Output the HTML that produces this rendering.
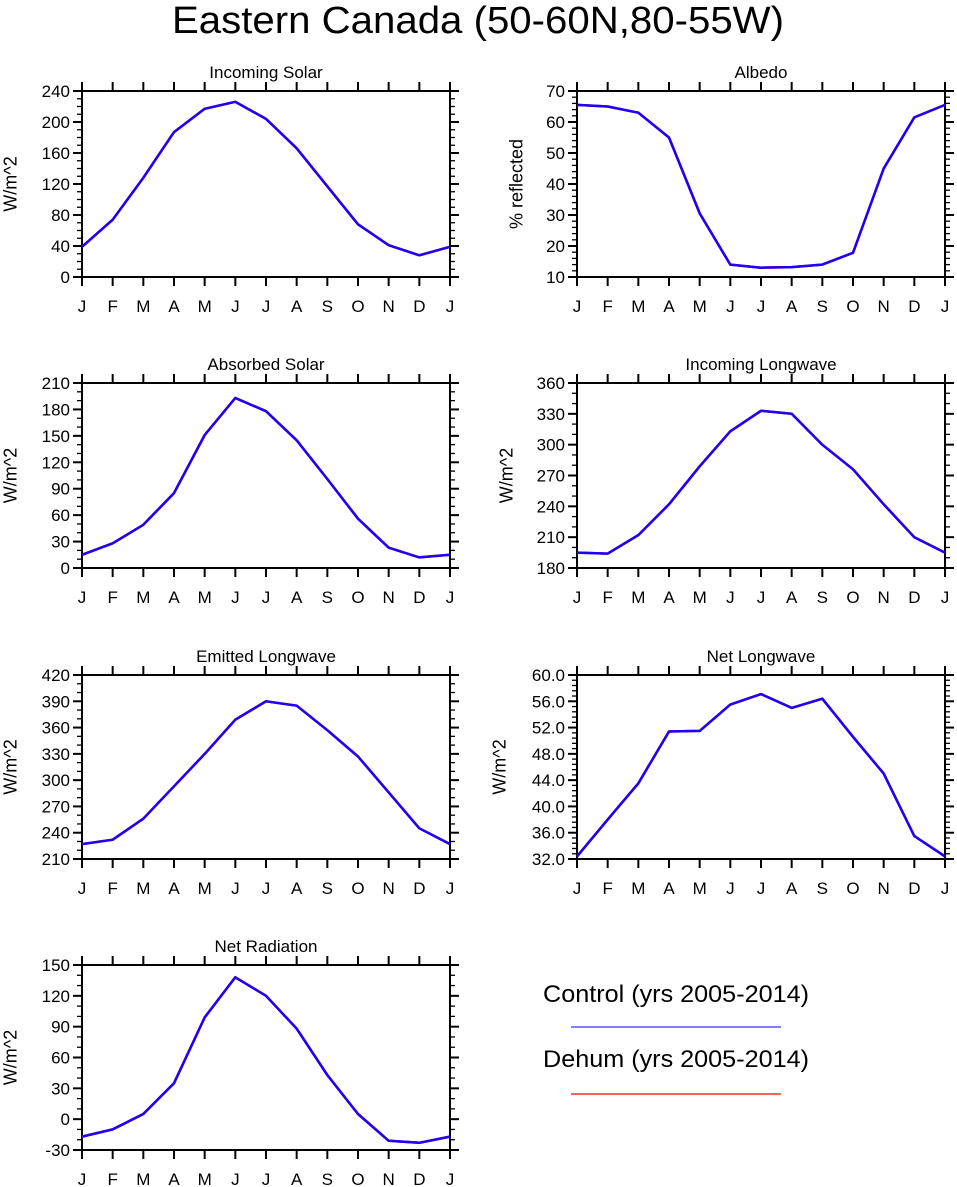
<!DOCTYPE html>
<html><head><meta charset="utf-8"><style>
body{margin:0;background:#fff;}
svg{display:block;font-family:"Liberation Sans",sans-serif;}
</style></head><body>
<svg id="fig" width="957" height="1187" viewBox="0 0 957 1187">
<text x="478" y="33" font-size="38" text-anchor="middle" textLength="612" lengthAdjust="spacingAndGlyphs">Eastern Canada (50-60N,80-55W)</text>
<g>
<text x="676" y="1002" font-size="24" text-anchor="middle" textLength="266" lengthAdjust="spacingAndGlyphs">Control (yrs 2005-2014)</text>
<line x1="571" y1="1027" x2="781" y2="1027" stroke="#3333ff" stroke-width="1.2"/>
<text x="676" y="1067" font-size="24" text-anchor="middle" textLength="266" lengthAdjust="spacingAndGlyphs">Dehum (yrs 2005-2014)</text>
<line x1="571" y1="1094" x2="781" y2="1094" stroke="#ff0000" stroke-width="1.2"/>
</g>
</svg>
<script>
const months = ["J","F","M","A","M","J","J","A","S","O","N","D","J"];
const incomingSolar = [39,74,128,187,217,226,204,166,117,68,41,28,39];
const albedo = [65.5,65,63,55,30.5,14,13,13.2,14,17.8,45,61.5,65.5];
const absorbedSolar = [15,28,49,85,151,193,178,145,101,56,23,12,15];
const incomingLW = [195,194,212,242,279,313,333,330,300,276,242,210,195];
const emittedLW = [227,232,256,293,330,369,390,385,357,327,286,245,227];
const netLW = [32.4,38,43.5,51.4,51.5,55.5,57.1,55,56.4,50.6,45,35.5,32.4];
const netRadiation = [-17,-10,5,35,99,138,120,88,43,5,-21,-23,-17];
const ticksIS = [0,40,80,120,160,200,240];
const ticksAlb = [10,20,30,40,50,60,70];
const ticksAS = [0,30,60,90,120,150,180,210];
const ticksILW = [180,210,240,270,300,330,360];
const ticksELW = [210,240,270,300,330,360,390,420];
const ticksNLW = [32,36,40,44,48,52,56,60];
const ticksNR = [-30,0,30,60,90,120,150];

const NS="http://www.w3.org/2000/svg";
const svg=document.getElementById('fig');
function mk(tag,attrs,parent){const e=document.createElementNS(NS,tag);for(const k in attrs)e.setAttribute(k,attrs[k]);parent.appendChild(e);return e;}

const panels=[
 {name:'incoming-solar',title:'Incoming Solar',x:82,y:91,h:186,data:incomingSolar,ticks:ticksIS,minor:3,dec:0,ylab:'W/m^2',ylx:10},
 {name:'albedo',title:'Albedo',x:577,y:91,h:186,data:albedo,ticks:ticksAlb,minor:4,dec:0,ylab:'% reflected',ylx:516},
 {name:'absorbed-solar',title:'Absorbed Solar',x:82,y:383,h:185,data:absorbedSolar,ticks:ticksAS,minor:2,dec:0,ylab:'W/m^2',ylx:10},
 {name:'incoming-longwave',title:'Incoming Longwave',x:577,y:383,h:185,data:incomingLW,ticks:ticksILW,minor:2,dec:0,ylab:'W/m^2',ylx:506},
 {name:'emitted-longwave',title:'Emitted Longwave',x:82,y:675,h:184,data:emittedLW,ticks:ticksELW,minor:2,dec:0,ylab:'W/m^2',ylx:10},
 {name:'net-longwave',title:'Net Longwave',x:577,y:675,h:184,data:netLW,ticks:ticksNLW,minor:4,dec:1,ylab:'W/m^2',ylx:499},
 {name:'net-radiation',title:'Net Radiation',x:82,y:965,h:185,data:netRadiation,ticks:ticksNR,minor:2,dec:0,ylab:'W/m^2',ylx:10}
];
const W=368;
panels.forEach(p=>{
 const g=mk('g',{},svg);
 
 
 const y0=p.ticks[0],y1=p.ticks[p.ticks.length-1];
 const sy=v=>p.y+p.h-(v-y0)/(y1-y0)*p.h;
 const sx=i=>p.x+i/(months.length-1)*W;
 const t=mk('text',{x:p.x+W/2,y:p.y-13,'font-size':17,'text-anchor':'middle'},g);
 
 
 t.textContent=p.title;
 const yl=mk('text',{x:p.ylx,y:p.y+p.h/2,'font-size':18,'text-anchor':'middle',transform:`rotate(-90 ${p.ylx} ${p.y+p.h/2})`,dy:'0.35em'},g);
 
 
 yl.textContent=p.ylab;
 p.ticks.forEach((v,k)=>{
  const y=sy(v);
  mk('line',{x1:p.x-9,y1:y,x2:p.x,y2:y,stroke:'#000','stroke-width':2},g);
  mk('line',{x1:p.x+W,y1:y,x2:p.x+W+9,y2:y,stroke:'#000','stroke-width':2},g);
  const lb=mk('text',{x:p.x-12,y:y+6,'font-size':17,'text-anchor':'end'},g);
  
  
  lb.textContent=v.toFixed(p.dec);
  if(k<p.ticks.length-1){
   const step=(p.ticks[k+1]-v)/(p.minor+1);
   for(let m=1;m<=p.minor;m++){const ym=sy(v+step*m);
    mk('line',{x1:p.x-5,y1:ym,x2:p.x,y2:ym,stroke:'#000','stroke-width':1.3},g);
    mk('line',{x1:p.x+W,y1:ym,x2:p.x+W+5,y2:ym,stroke:'#000','stroke-width':1.3},g);}
  }
 });
 months.forEach((m,i)=>{
  const x=sx(i);
  mk('line',{x1:x,y1:p.y-9,x2:x,y2:p.y,stroke:'#000','stroke-width':2},g);
  mk('line',{x1:x,y1:p.y+p.h,x2:x,y2:p.y+p.h+9,stroke:'#000','stroke-width':2},g);
  const lb=mk('text',{x:x,y:p.y+p.h+35,'font-size':17,'text-anchor':'middle'},g);
  
  
  lb.textContent=m;
 });
 const fr=mk('rect',{x:p.x,y:p.y,width:W,height:p.h,fill:'none',stroke:'#000','stroke-width':2},g);
 
 
 const pts=p.data.map((v,i)=>sx(i).toFixed(1)+','+sy(v).toFixed(1)).join(' ');
 const r=mk('polyline',{points:pts,fill:'none',stroke:'#ff0000','stroke-width':2.5},g);
 
 
 const b=mk('polyline',{points:pts,fill:'none',stroke:'#1a00ff','stroke-width':2.5,'stroke-linejoin':'round'},g);
 
 
});
</script>
</body></html>
